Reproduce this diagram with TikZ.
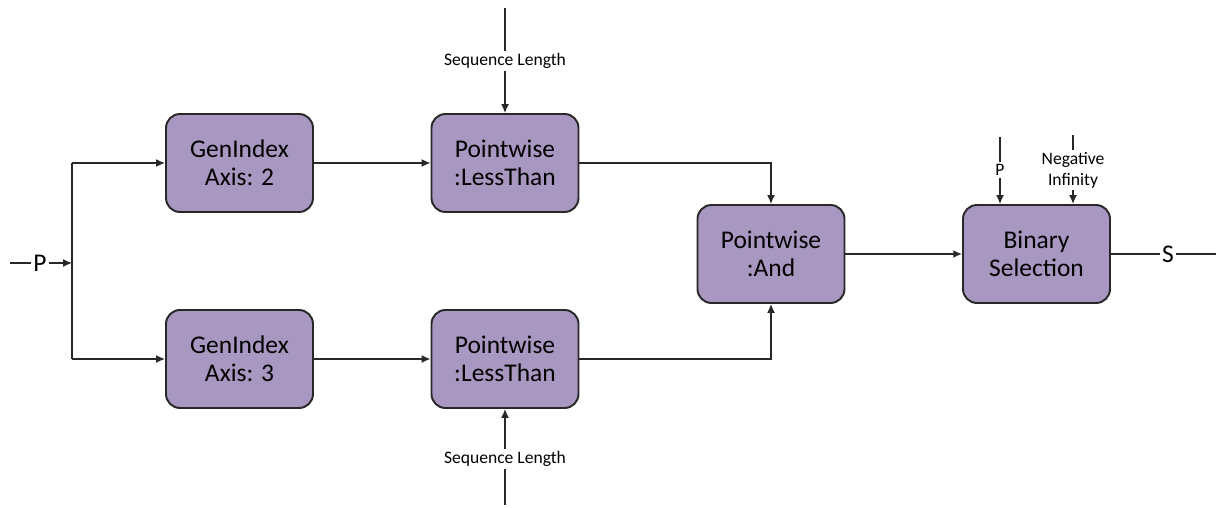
\documentclass[tikz,border=0pt]{standalone}
\usepackage{fontspec}
\setmainfont{Carlito}
\usetikzlibrary{arrows.meta}
\definecolor{boxfill}{RGB}{168,151,192}
\definecolor{linegray}{RGB}{40,40,40}
\begin{document}
\begin{tikzpicture}[>={Latex[length=5pt,width=4.5pt]}]
	\useasboundingbox (0,0) rectangle (24.32,-10.16);
	\begin{scope}[every node/.style={rectangle,rounded corners=0.28cm,draw=linegray,line width=1.1pt,fill=boxfill,minimum width=2.94cm,minimum height=1.96cm,align=center,font=\fontsize{14.5}{16}\selectfont}]
		\node (gi2) at (4.79,-3.26) {GenIndex\\Axis: 2};
		\node (gi3) at (4.79,-7.18) {GenIndex\\Axis: 3};
		\node (lt2) at (10.10,-3.26) {Pointwise\\:LessThan};
		\node (lt3) at (10.10,-7.18) {Pointwise\\:LessThan};
		\node (and) at (15.42,-5.08) {Pointwise\\:And};
		\node (sel) at (20.73,-5.08) {Binary\\Selection};
	\end{scope}
	
	\begin{scope}[every node/.style={inner sep=1pt,align=center,font=\fontsize{10}{12}\selectfont}]
		\node (sl2) at (10.10,-1.22) {Sequence Length};
		\node (sl3) at (10.10,-9.18) {Sequence Length};
		\node (sp) at (20.0,-3.40) {P};
		\node (ninf) at (21.46,-3.40) {Negative\\Infinity};
		\node[font=\fontsize{14.5}{16}\selectfont] (pin) at (0.8,-5.26) {P};
		\node[font=\fontsize{14.5}{16}\selectfont] (sout) at (23.36,-5.08) {S};
	\end{scope}
	\coordinate (pstart) at (0.2,-5.26);
	\coordinate (split) at (1.44,-5.26);
	\coordinate (sl2top) at (10.10,-0.16);
	\coordinate (sl3bot) at (10.10,-10.10);
	\coordinate (sptop) at (20.0,-2.74);
	\coordinate (ninftop) at (21.46,-2.70);
	\coordinate (send) at (24.32,-5.08);
	
	\begin{scope}[every edge/.style={draw=linegray,line width=0.85pt}]
		\path (pstart) edge (pin);
		\path [->] (pin) edge (split);
		\path (split |- gi2) edge (split |- gi3);
		\path [->] (split |- gi2) edge (gi2);
		\path [->] (split |- gi3) edge (gi3);
		\path [->] (gi2) edge (lt2);
		\path [->] (gi3) edge (lt3);
		\path (sl2top) edge (sl2);
		\path [->] (sl2) edge (lt2);
		\path (sl3bot) edge (sl3);
		\path [->] (sl3) edge (lt3);
		\path [->] (lt2) edge[to path={-| (\tikztotarget)}] (and);
		\path [->] (lt3) edge[to path={-| (\tikztotarget)}] (and);
		\path [->] (and) edge (sel);
		\path (sptop) edge (sp);
		\path [->] (sp) edge (sp |- sel.north);
		\path (ninftop) edge (ninf);
		\path [->] (ninf) edge (ninf |- sel.north);
		\path (sel) edge (sout);
		\path (sout) edge (send);
	\end{scope}
\end{tikzpicture}
\end{document}
